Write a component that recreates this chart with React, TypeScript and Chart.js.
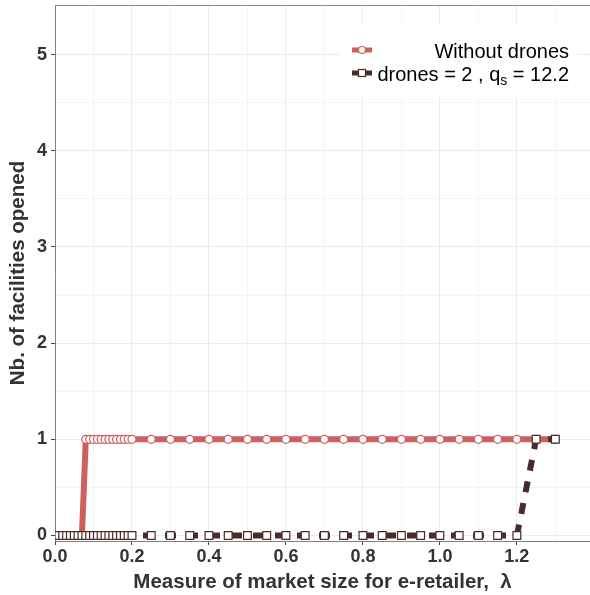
import React, { useEffect, useRef } from "react";
import { Chart, registerables } from "chart.js";

Chart.register(...registerables);

// ---- data ----
const lambdaValues = [
  0, 0.01, 0.02, 0.03, 0.04, 0.05, 0.06, 0.07, 0.08, 0.09, 0.1,
  0.11, 0.12, 0.13, 0.14, 0.15, 0.16, 0.17, 0.18, 0.19, 0.2,
  0.25, 0.3, 0.35, 0.4, 0.45, 0.5, 0.55, 0.6, 0.65, 0.7, 0.75,
  0.8, 0.85, 0.9, 0.95, 1.0, 1.05, 1.1, 1.15, 1.2, 1.25, 1.3,
];
const withoutDrones = [
  0, 0, 0, 0, 0, 0, 0, 0, 1, 1, 1,
  1, 1, 1, 1, 1, 1, 1, 1, 1, 1,
  1, 1, 1, 1, 1, 1, 1, 1, 1, 1, 1,
  1, 1, 1, 1, 1, 1, 1, 1, 1, 1, 1,
];
const withDrones = [
  0, 0, 0, 0, 0, 0, 0, 0, 0, 0, 0,
  0, 0, 0, 0, 0, 0, 0, 0, 0, 0,
  0, 0, 0, 0, 0, 0, 0, 0, 0, 0, 0,
  0, 0, 0, 0, 0, 0, 0, 0, 0, 1, 1,
];
const xTicks = [0, 0.1, 0.2, 0.3, 0.4, 0.5, 0.6, 0.7, 0.8, 0.9, 1.0, 1.1, 1.2, 1.3];
const yTicks = [0, 0.5, 1, 1.5, 2, 2.5, 3, 3.5, 4, 4.5, 5];
const xMajorStep = 0.2;
const yMajorStep = 1;
const xTitle = "Measure of market size for e-retailer,  λ";
const yTitle = "Nb. of facilities opened";
const legendLabel1 = "Without drones";
const legendLabel2 = ["drones = 2 , q", "s", " = 12.2"];

const RED = "#cd5f5f";
const DARK = "#4a2b2b";
const FONT = '"Liberation Sans", Arial, Helvetica, sans-serif';

const isMajor = (v: number, step: number) =>
  Math.abs(v / step - Math.round(v / step)) < 1e-6;

const zeroPad = (s: any) => {
  s.paddingLeft = 0;
  s.paddingRight = 0;
  s.paddingTop = 0;
  s.paddingBottom = 0;
};

const decorPlugin = {
  id: "decor",
  afterDatasetsDraw(chart: any) {
    const { ctx, chartArea } = chart;
    ctx.save();
    // top panel border
    ctx.strokeStyle = "#8a8a8a";
    ctx.lineWidth = 1;
    ctx.beginPath();
    ctx.moveTo(chartArea.left, chartArea.top + 0.5);
    ctx.lineTo(chartArea.right, chartArea.top + 0.5);
    ctx.stroke();

    // legend box
    const bx = chartArea.right - 250;
    const by = chartArea.top + 20;
    ctx.fillStyle = "#ffffff";
    ctx.fillRect(bx, by, 237, 72);

    const symL = chartArea.right - 238;
    const symR = chartArea.right - 218;
    const symC = (symL + symR) / 2;
    const textR = chartArea.right - 21;
    const row1 = chartArea.top + 45;
    const row2 = chartArea.top + 68;

    // row 1 symbol
    ctx.strokeStyle = RED;
    ctx.lineWidth = 5;
    ctx.beginPath();
    ctx.moveTo(symL, row1);
    ctx.lineTo(symR, row1);
    ctx.stroke();
    ctx.fillStyle = "#fff";
    ctx.lineWidth = 1.2;
    ctx.beginPath();
    ctx.arc(symC, row1, 3.5, 0, Math.PI * 2);
    ctx.fill();
    ctx.stroke();

    // row 2 symbol
    ctx.strokeStyle = DARK;
    ctx.lineWidth = 5;
    ctx.beginPath();
    ctx.moveTo(symL, row2);
    ctx.lineTo(symR, row2);
    ctx.stroke();
    ctx.fillStyle = "#fff";
    ctx.lineWidth = 1.2;
    ctx.fillRect(symC - 3.5, row2 - 3.5, 7, 7);
    ctx.strokeRect(symC - 3.5, row2 - 3.5, 7, 7);

    // texts
    ctx.fillStyle = "#000";
    ctx.textBaseline = "alphabetic";
    ctx.textAlign = "left";
    const f = `20px ${FONT}`;
    const fs = `14px ${FONT}`;
    ctx.font = f;
    const w0 = ctx.measureText(legendLabel1).width;
    ctx.fillText(legendLabel1, textR - w0, row1 + 8);

    ctx.font = f;
    const w1 = ctx.measureText(legendLabel2[0]).width;
    const w3 = ctx.measureText(legendLabel2[2]).width;
    ctx.font = fs;
    const w2 = ctx.measureText(legendLabel2[1]).width;
    const x0 = textR - (w1 + w2 + w3);
    const base2 = row2 + 8;
    ctx.font = f;
    ctx.fillText(legendLabel2[0], x0, base2);
    ctx.font = fs;
    ctx.fillText(legendLabel2[1], x0 + w1, base2 + 4);
    ctx.font = f;
    ctx.fillText(legendLabel2[2], x0 + w1 + w2, base2);
    ctx.restore();
  },
};

export default function App() {
  const canvasRef = useRef<HTMLCanvasElement | null>(null);

  useEffect(() => {
    const canvas = canvasRef.current;
    if (!canvas) return;
    const tickFont = { family: FONT, size: 18, weight: "bold" as const };
    const titleFont = { family: FONT, size: 20.5, weight: "bold" as const };

    const chart = new Chart(canvas, {
      type: "line",
      data: {
        datasets: [
          {
            label: "drones = 2 , q_s = 12.2",
            data: lambdaValues.map((x, i) => ({ x, y: withDrones[i] })),
            borderColor: DARK,
            borderWidth: 6,
            borderDash: [11, 11],
            pointStyle: "rect",
            pointRadius: 5.5,
            pointBorderWidth: 1.2,
            pointBorderColor: DARK,
            pointBackgroundColor: "#ffffff",
            tension: 0,
            order: 0,
          },
          {
            label: legendLabel1,
            data: lambdaValues.map((x, i) => ({ x, y: withoutDrones[i] })),
            borderColor: RED,
            borderWidth: 6,
            pointStyle: "circle",
            pointRadius: 4,
            pointBorderWidth: 1.2,
            pointBorderColor: RED,
            pointBackgroundColor: "#ffffff",
            tension: 0,
            order: 1,
          },
        ],
      },
      options: {
        animation: false,
        responsive: false,
        maintainAspectRatio: false,
        layout: { autoPadding: false, padding: { top: 5, right: 0, left: 0, bottom: 0 } },
        plugins: {
          legend: { display: false },
          tooltip: { enabled: false },
        },
        scales: {
          x: {
            type: "linear",
            min: 0,
            max: 1.39,
            afterBuildTicks: (s: any) => {
              s.ticks = xTicks.map((v) => ({ value: v }));
            },
            afterFit: (s: any) => {
              s.height = 54;
              zeroPad(s);
            },
            grid: {
              color: (c: any) =>
                c.tick && isMajor(c.tick.value, xMajorStep) ? "#ebebeb" : "#f4f4f4",
              lineWidth: 1,
              tickLength: 4,
              tickColor: (c: any) =>
                c.tick && isMajor(c.tick.value, xMajorStep) ? "#444" : "rgba(0,0,0,0)",
            },
            border: { display: true, color: "#808080", width: 1 },
            ticks: {
              autoSkip: false,
              maxRotation: 0,
              padding: 1,
              color: "#333",
              font: tickFont,
              callback: (v: any) =>
                isMajor(Number(v), xMajorStep) ? Number(v).toFixed(1) : "",
            },
            title: {
              display: true,
              text: xTitle,
              color: "#333",
              font: titleFont,
              padding: { top: 0, bottom: 0 },
            },
          },
          y: {
            type: "linear",
            min: -0.057,
            max: 5.515,
            afterBuildTicks: (s: any) => {
              s.ticks = yTicks.map((v) => ({ value: v }));
            },
            afterFit: (s: any) => {
              s.width = 55;
              zeroPad(s);
            },
            grid: {
              color: (c: any) =>
                c.tick && isMajor(c.tick.value, yMajorStep) ? "#ebebeb" : "#f4f4f4",
              lineWidth: 1,
              tickLength: 4,
              tickColor: (c: any) =>
                c.tick && isMajor(c.tick.value, yMajorStep) ? "#444" : "rgba(0,0,0,0)",
            },
            border: { display: true, color: "#808080", width: 1 },
            ticks: {
              autoSkip: false,
              padding: 4,
              color: "#333",
              font: tickFont,
              callback: (v: any) =>
                isMajor(Number(v), yMajorStep) ? String(Math.round(Number(v))) : "",
            },
            title: {
              display: true,
              text: yTitle,
              color: "#333",
              font: titleFont,
              padding: { top: 6, bottom: 0 },
            },
          },
        },
      },
      plugins: [decorPlugin],
    } as any);

    return () => chart.destroy();
  }, []);

  return (
    <div
      style={{
        position: "fixed",
        left: 0,
        top: 0,
        width: 590,
        height: 595,
        background: "#fff",
      }}
    >
      <canvas ref={canvasRef} width={590} height={595} style={{ display: "block" }} />
    </div>
  );
}
